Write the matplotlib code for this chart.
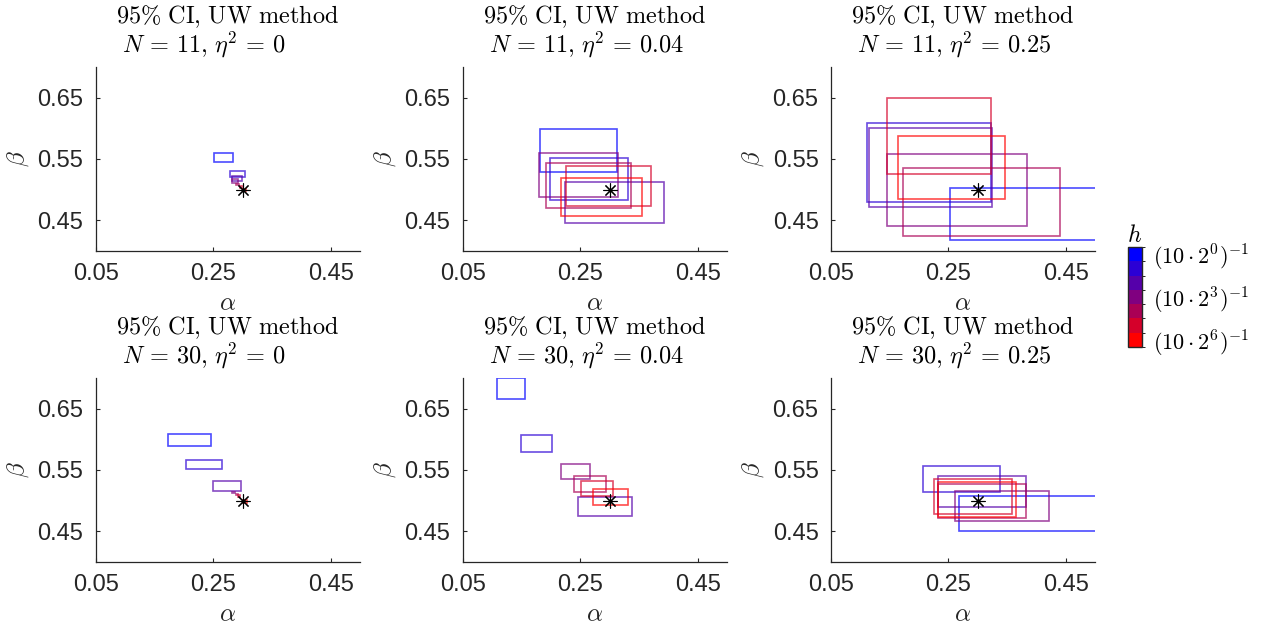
import numpy as np
import matplotlib
matplotlib.use("Agg")
import matplotlib.pyplot as plt
from matplotlib.patches import Rectangle
from matplotlib.colors import ListedColormap, BoundaryNorm
from matplotlib.cm import ScalarMappable

plt.rcParams['font.family'] = ['Liberation Sans', 'DejaVu Sans']
plt.rcParams['mathtext.fontset'] = 'cm'

# step sizes h = (10*2^k)^-1, k = 0..6 ; one CI box per k (blue -> red)
levels = [0, 1, 2, 3, 4, 5, 6]
true_alpha = 0.3
true_beta = 0.5

N_values = [11, 11, 11, 30, 30, 30]
eta_labels = ['0', '0.04', '0.25', '0', '0.04', '0.25']

# N = 11, eta^2 = 0
a_lo_11_0 = [0.2505, 0.2778, 0.2818, 0.2813, 0.289, 0.295, 0.301]
a_hi_11_0 = [0.2835, 0.3035, 0.2989, 0.2915, 0.293, 0.299, 0.306]
b_lo_11_0 = [0.5451, 0.5207, 0.5147, 0.5114, 0.507, 0.503, 0.497]
b_hi_11_0 = [0.5598, 0.5310, 0.5228, 0.5168, 0.509, 0.506, 0.501]

# N = 11, eta^2 = 0.04
a_lo_11_04 = [0.1813, 0.1983, 0.2233, 0.1801, 0.1909, 0.2256, 0.2165]
a_hi_11_04 = [0.3119, 0.3312, 0.3920, 0.3142, 0.3369, 0.3705, 0.3557]
b_lo_11_04 = [0.5293, 0.4837, 0.4462, 0.4880, 0.4707, 0.4734, 0.4571]
b_hi_11_04 = [0.5995, 0.5511, 0.5120, 0.5603, 0.5435, 0.5391, 0.5196]

# N = 11, eta^2 = 0.25
a_lo_11_25 = [0.2528, 0.1119, 0.1142, 0.1449, 0.1727, 0.1449, 0.1642]
a_hi_11_25 = [0.5500, 0.3222, 0.3244, 0.3841, 0.4403, 0.3233, 0.3472]
b_lo_11_25 = [0.4174, 0.4804, 0.4723, 0.4408, 0.4250, 0.5250, 0.4853]
b_hi_11_25 = [0.5022, 0.6087, 0.6011, 0.5582, 0.5353, 0.6495, 0.5880]

# N = 30, eta^2 = 0
a_lo_30_0 = [0.1736, 0.2027, 0.2494, 0.2819, 0.289, 0.2927, 0.301]
a_hi_30_0 = [0.2454, 0.2653, 0.2972, 0.2863, 0.2927, 0.2960, 0.307]
b_lo_30_0 = [0.5889, 0.5510, 0.5163, 0.5125, 0.5085, 0.5060, 0.4965]
b_hi_30_0 = [0.6084, 0.5667, 0.5325, 0.5146, 0.5109, 0.5085, 0.5010]

# N = 30, eta^2 = 0.04
a_lo_30_04 = [0.1074, 0.1494, 0.2466, 0.2170, 0.2392, 0.2511, 0.2716]
a_hi_30_04 = [0.1557, 0.2023, 0.3375, 0.2659, 0.2943, 0.3051, 0.3312]
b_lo_30_04 = [0.6664, 0.5786, 0.4751, 0.5347, 0.5141, 0.5076, 0.4935]
b_hi_30_04 = [0.6995, 0.6062, 0.5065, 0.5591, 0.5396, 0.5325, 0.5195]

# N = 30, eta^2 = 0.25
a_lo_30_25 = [0.2676, 0.2074, 0.2330, 0.2619, 0.2330, 0.2256, 0.2330]
a_hi_30_25 = [0.5500, 0.3381, 0.3824, 0.4216, 0.3818, 0.3591, 0.3659]
b_lo_30_25 = [0.4507, 0.5141, 0.4902, 0.4664, 0.4724, 0.4789, 0.4740]
b_hi_30_25 = [0.5076, 0.5558, 0.5407, 0.5163, 0.5266, 0.5352, 0.5309]

panels = [
    (a_lo_11_0, a_hi_11_0, b_lo_11_0, b_hi_11_0),
    (a_lo_11_04, a_hi_11_04, b_lo_11_04, b_hi_11_04),
    (a_lo_11_25, a_hi_11_25, b_lo_11_25, b_hi_11_25),
    (a_lo_30_0, a_hi_30_0, b_lo_30_0, b_hi_30_0),
    (a_lo_30_04, a_hi_30_04, b_lo_30_04, b_hi_30_04),
    (a_lo_30_25, a_hi_30_25, b_lo_30_25, b_hi_30_25),
]

colors = [(k / 6, 0, 1 - k / 6) for k in levels]
grey = (0.15, 0.15, 0.15)

fig = plt.figure(figsize=(12.66, 6.24), dpi=100)

lefts = [0.0758, 0.3657, 0.6564]
bottoms = [0.5978, 0.0994]
w, h = 0.2085, 0.2949

for i, (alo, ahi, blo, bhi) in enumerate(panels):
    ax = fig.add_axes([lefts[i % 3], bottoms[i // 3], w, h])
    for k in levels:
        ax.add_patch(Rectangle((alo[k], blo[k]), ahi[k] - alo[k], bhi[k] - blo[k],
                               fill=False, edgecolor=colors[k], alpha=0.7, lw=1.2))
    ax.plot(true_alpha, true_beta, marker=(8, 2, 0), color='black', ms=10, mew=0.8)
    ax.set_xlim(0.05, 0.5)
    ax.set_ylim(0.4, 0.7)
    ax.set_xticks([0.05, 0.25, 0.45])
    ax.set_yticks([0.45, 0.55, 0.65])
    ax.set_xticklabels(['0.05', '0.25', '0.45'])
    ax.set_yticklabels(['0.45', '0.55', '0.65'])
    ax.spines['top'].set_visible(False)
    ax.spines['right'].set_visible(False)
    for s in ['left', 'bottom']:
        ax.spines[s].set_color(grey)
        ax.spines[s].set_linewidth(0.9)
    ax.tick_params(direction='in', length=3, color=grey, labelcolor=grey, labelsize=17)
    ax.tick_params(axis='x', pad=9)
    ax.tick_params(axis='y', pad=9)
    ax.set_xlabel(r'$\alpha$', fontsize=18, color=grey)
    ax.xaxis.set_label_coords(0.5, -0.22)
    ax.set_ylabel(r'$\beta$', fontsize=18, color=grey)
    ax.yaxis.set_label_coords(-0.245, 0.5)
    ax.text(0.5, 1.239, r'$\mathrm{95\%\ CI{,}\ UW\ method}$', transform=ax.transAxes,
            ha='center', va='baseline', fontsize=17.5)
    ax.text(0.099, 1.076, r'$N\,=\,%d{,}\ \eta^2\,=\,%s$' % (N_values[i], eta_labels[i]),
            transform=ax.transAxes, ha='left', va='baseline', fontsize=17.5)

# colorbar with 7 discrete levels, blue on top
cax = fig.add_axes([0.891, 0.444, 0.011, 0.160])
cmap = ListedColormap(colors[::-1])
norm = BoundaryNorm(np.arange(-0.5, 7.5, 1), cmap.N)
cb = fig.colorbar(ScalarMappable(norm=norm, cmap=cmap), cax=cax)
cb.set_ticks([6, 3, 0])
cb.set_ticklabels([r'$(10\cdot 2^{0})^{-1}$', r'$(10\cdot 2^{3})^{-1}$',
                   r'$(10\cdot 2^{6})^{-1}$'])
cb.ax.tick_params(length=0, labelsize=16, pad=8)
cb.outline.set_edgecolor(grey)
cb.outline.set_linewidth(1)
cax.set_title(r'$h$', fontsize=17, pad=3)

fig.savefig('out.png', dpi=100)
